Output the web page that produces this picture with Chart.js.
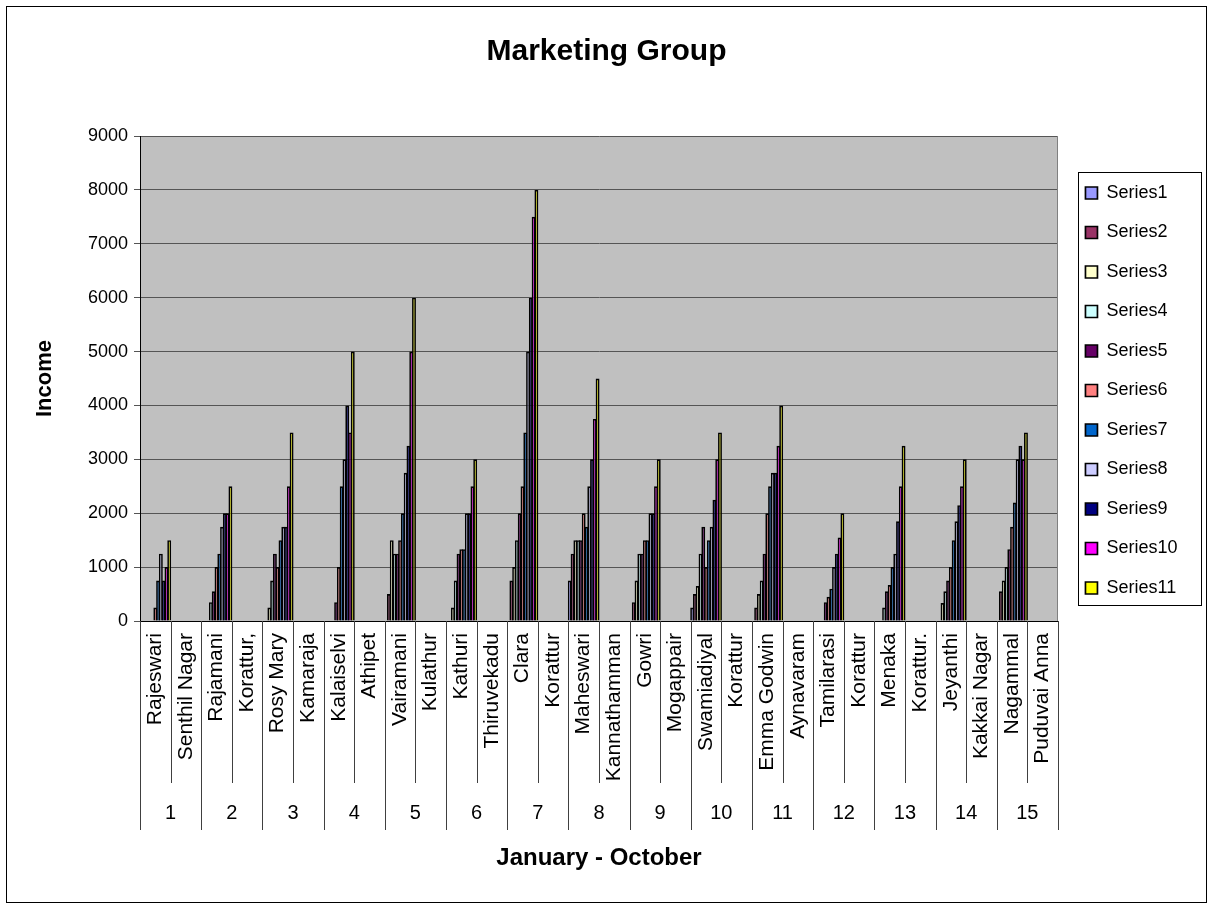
<!DOCTYPE html>
<html>
<head>
<meta charset="utf-8">
<title>Marketing Group</title>
<script src="https://cdn.jsdelivr.net/npm/chart.js@4.4.1/dist/chart.umd.min.js"></script>
<style>
  body { margin: 0; background: #fff; }
  canvas { display: block; }
</style>
</head>
<body>
<canvas id="incomeChart" width="1213" height="909"></canvas>
<script>
// Members and their localities, one pair per group number
const names = ['Rajeswari', 'Rajamani', 'Rosy Mary', 'Kalaiselvi', 'Vairamani', 'Kathuri', 'Clara', 'Maheswari',
               'Gowri', 'Swamiadiyal', 'Emma Godwin', 'Tamilarasi', 'Menaka', 'Jeyanthi', 'Nagammal'];
const places = ['Senthil Nagar', 'Korattur,', 'Kamaraja', 'Athipet', 'Kulathur', 'Thiruvekadu', 'Korattur', 'Kannathamman',
                'Mogappair', 'Korattur', 'Aynavaram', 'Korattur', 'Korattur.', 'Kakkai Nagar', 'Puduvai Anna'];
const groups = ['1', '2', '3', '4', '5', '6', '7', '8', '9', '10', '11', '12', '13', '14', '15'];

// Income per member (0 = nothing recorded)
const series1  = [0, 0, 0, 0, 0, 0, 0, 750, 0, 250, 0, 0, 0, 0, 0];
const series2  = [0, 0, 0, 0, 500, 0, 750, 1250, 350, 500, 250, 0, 0, 0, 550];
const series3  = [0, 0, 250, 0, 1500, 250, 1000, 1500, 750, 650, 500, 0, 0, 333, 750];
const series4  = [0, 350, 750, 0, 1250, 750, 1500, 1500, 1250, 1250, 750, 0, 250, 550, 1000];
const series5  = [0, 550, 1250, 350, 1250, 1250, 2000, 1500, 1250, 1750, 1250, 350, 550, 750, 1333];
const series6  = [250, 1000, 1000, 1000, 1500, 1333, 2500, 2000, 1500, 1000, 2000, 450, 667, 1000, 1750];
const series7  = [750, 1250, 1500, 2500, 2000, 1333, 3500, 1750, 1500, 1500, 2500, 600, 1000, 1500, 2200];
const series8  = [1250, 1750, 1750, 3000, 2750, 2000, 5000, 2500, 2000, 1750, 2750, 1000, 1250, 1850, 3000];
const series9  = [750, 2000, 1750, 4000, 3250, 2000, 6000, 3000, 2000, 2250, 2750, 1250, 1850, 2150, 3250];
const series10 = [1000, 2000, 2500, 3500, 5000, 2500, 7500, 3750, 2500, 3000, 3250, 1550, 2500, 2500, 3000];
const series11 = [1500, 2500, 3500, 5000, 6000, 3000, 8000, 4500, 3000, 3500, 4000, 2000, 3250, 3000, 3500];

const yMax = 9000;
const yStep = 1000;

const seriesValues = [series1, series2, series3, series4, series5, series6, series7, series8, series9, series10, series11];
const seriesColors = ['#9999ff', '#993366', '#ffffcc', '#ccffff', '#660066', '#ff8080',
                      '#0066cc', '#ccccff', '#000080', '#ff00ff', '#ffff00'];

const FONT = 'Arial, "Liberation Sans", sans-serif';
Chart.defaults.font.family = FONT;
Chart.defaults.color = '#000';

// name column followed by its locality column
const labels = names.flatMap((name, i) => [name, places[i]]);

const datasets = seriesValues.map((values, i) => ({
    label: 'Series' + (i + 1),
    data: values.flatMap(v => [v > 0 ? v : null, null]),
    backgroundColor: seriesColors[i],
    borderColor: '#000',
    borderWidth: 1.7,
    categoryPercentage: 1,
    barPercentage: 1.4
}));

// grey plot area, outer frame, legend frame and the two-level category axis
const chartFrames = {
    id: 'chartFrames',
    afterLayout(chart) {
        // title centred on the whole canvas, legend nudged right
        chart.titleBlock.right = chart.width;
        chart.titleBlock.width = chart.width - chart.titleBlock.left;
        chart.legend.left += 6;
        chart.legend.right += 6;
    },
    beforeDraw(chart) {
        const { ctx, chartArea: a } = chart;
        ctx.save();
        ctx.fillStyle = '#c0c0c0';
        ctx.fillRect(a.left, a.top, a.right - a.left, a.bottom - a.top);
        ctx.restore();
    },
    afterDraw(chart) {
        const { ctx, chartArea: a, scales: { x } } = chart;
        ctx.save();
        ctx.lineWidth = 1;

        // right edge of the plot area
        ctx.strokeStyle = '#808080';
        ctx.beginPath();
        ctx.moveTo(Math.round(a.right) - 0.5, a.top);
        ctx.lineTo(Math.round(a.right) - 0.5, a.bottom);
        ctx.stroke();

        // separators below the axis: short ones between name and place, long ones between groups
        const half = (x.getPixelForValue(1) - x.getPixelForValue(0)) / 2;
        ctx.strokeStyle = '#404040';
        ctx.beginPath();
        for (let i = 0; i <= labels.length; i++) {
            const px = Math.round(x.getPixelForValue(i) - half) + 0.5;
            ctx.moveTo(px, a.bottom);
            ctx.lineTo(px, a.bottom + (i % 2 === 0 ? 209 : 162));
        }
        ctx.stroke();

        ctx.fillStyle = '#000';
        ctx.font = '20px ' + FONT;
        ctx.textAlign = 'center';
        ctx.textBaseline = 'middle';
        groups.forEach((g, i) => {
            ctx.fillText(g, x.getPixelForValue(2 * i) + half, a.bottom + 192);
        });

        // legend frame
        const boxes = chart.legend.legendHitBoxes;
        const first = boxes[0];
        const last = boxes[boxes.length - 1];
        const top = Math.round(first.top - 12) + 0.5;
        const left = Math.round(first.left - 7) + 0.5;
        ctx.strokeStyle = '#000';
        ctx.strokeRect(left, top, 123, Math.round(last.top + last.height + 8) + 0.5 - top);

        // outer chart border
        ctx.strokeRect(6.5, 6.5, 1200, 896);
        ctx.restore();
    }
};

const ctx = document.getElementById('incomeChart').getContext('2d');
const incomeChart = new Chart(ctx, {
    type: 'bar',
    data: { labels: labels, datasets: datasets },
    plugins: [chartFrames],
    options: {
        responsive: false,
        animation: false,
        layout: { padding: { left: 0, top: 0, right: 31.5, bottom: 0 } },
        plugins: {
            title: {
                display: true,
                text: 'Marketing Group',
                font: { size: 30, weight: 'bold' },
                padding: { top: 34, bottom: 66 }
            },
            legend: {
                position: 'right',
                align: 'center',
                fullSize: false,
                title: { display: true, text: ' ', font: { size: 10 }, padding: 6 },
                labels: { boxWidth: 12, boxHeight: 12, padding: 21.5, font: { size: 18 } }
            },
            tooltip: { enabled: false }
        },
        scales: {
            x: {
                grid: { display: true, drawOnChartArea: false, drawTicks: false },
                border: { color: '#000' },
                ticks: { autoSkip: false, minRotation: 90, maxRotation: 90, padding: 12, font: { size: 21 } },
                title: {
                    display: true,
                    text: 'January - October',
                    font: { size: 24, weight: 'bold' },
                    padding: { top: 0, bottom: 36.6 }
                },
                afterFit(scale) { scale.height = 288; }
            },
            y: {
                min: 0,
                max: yMax,
                ticks: { stepSize: yStep, padding: 6, font: { size: 18 }, callback: v => String(v) },
                grid: { color: '#555', tickLength: 6 },
                border: { color: '#000' },
                title: {
                    display: true,
                    text: 'Income',
                    font: { size: 22, weight: 'bold' },
                    padding: { top: 32, bottom: 0 }
                },
                afterFit(scale) { scale.width = 140; }
            }
        }
    }
});
</script>
</body>
</html>
